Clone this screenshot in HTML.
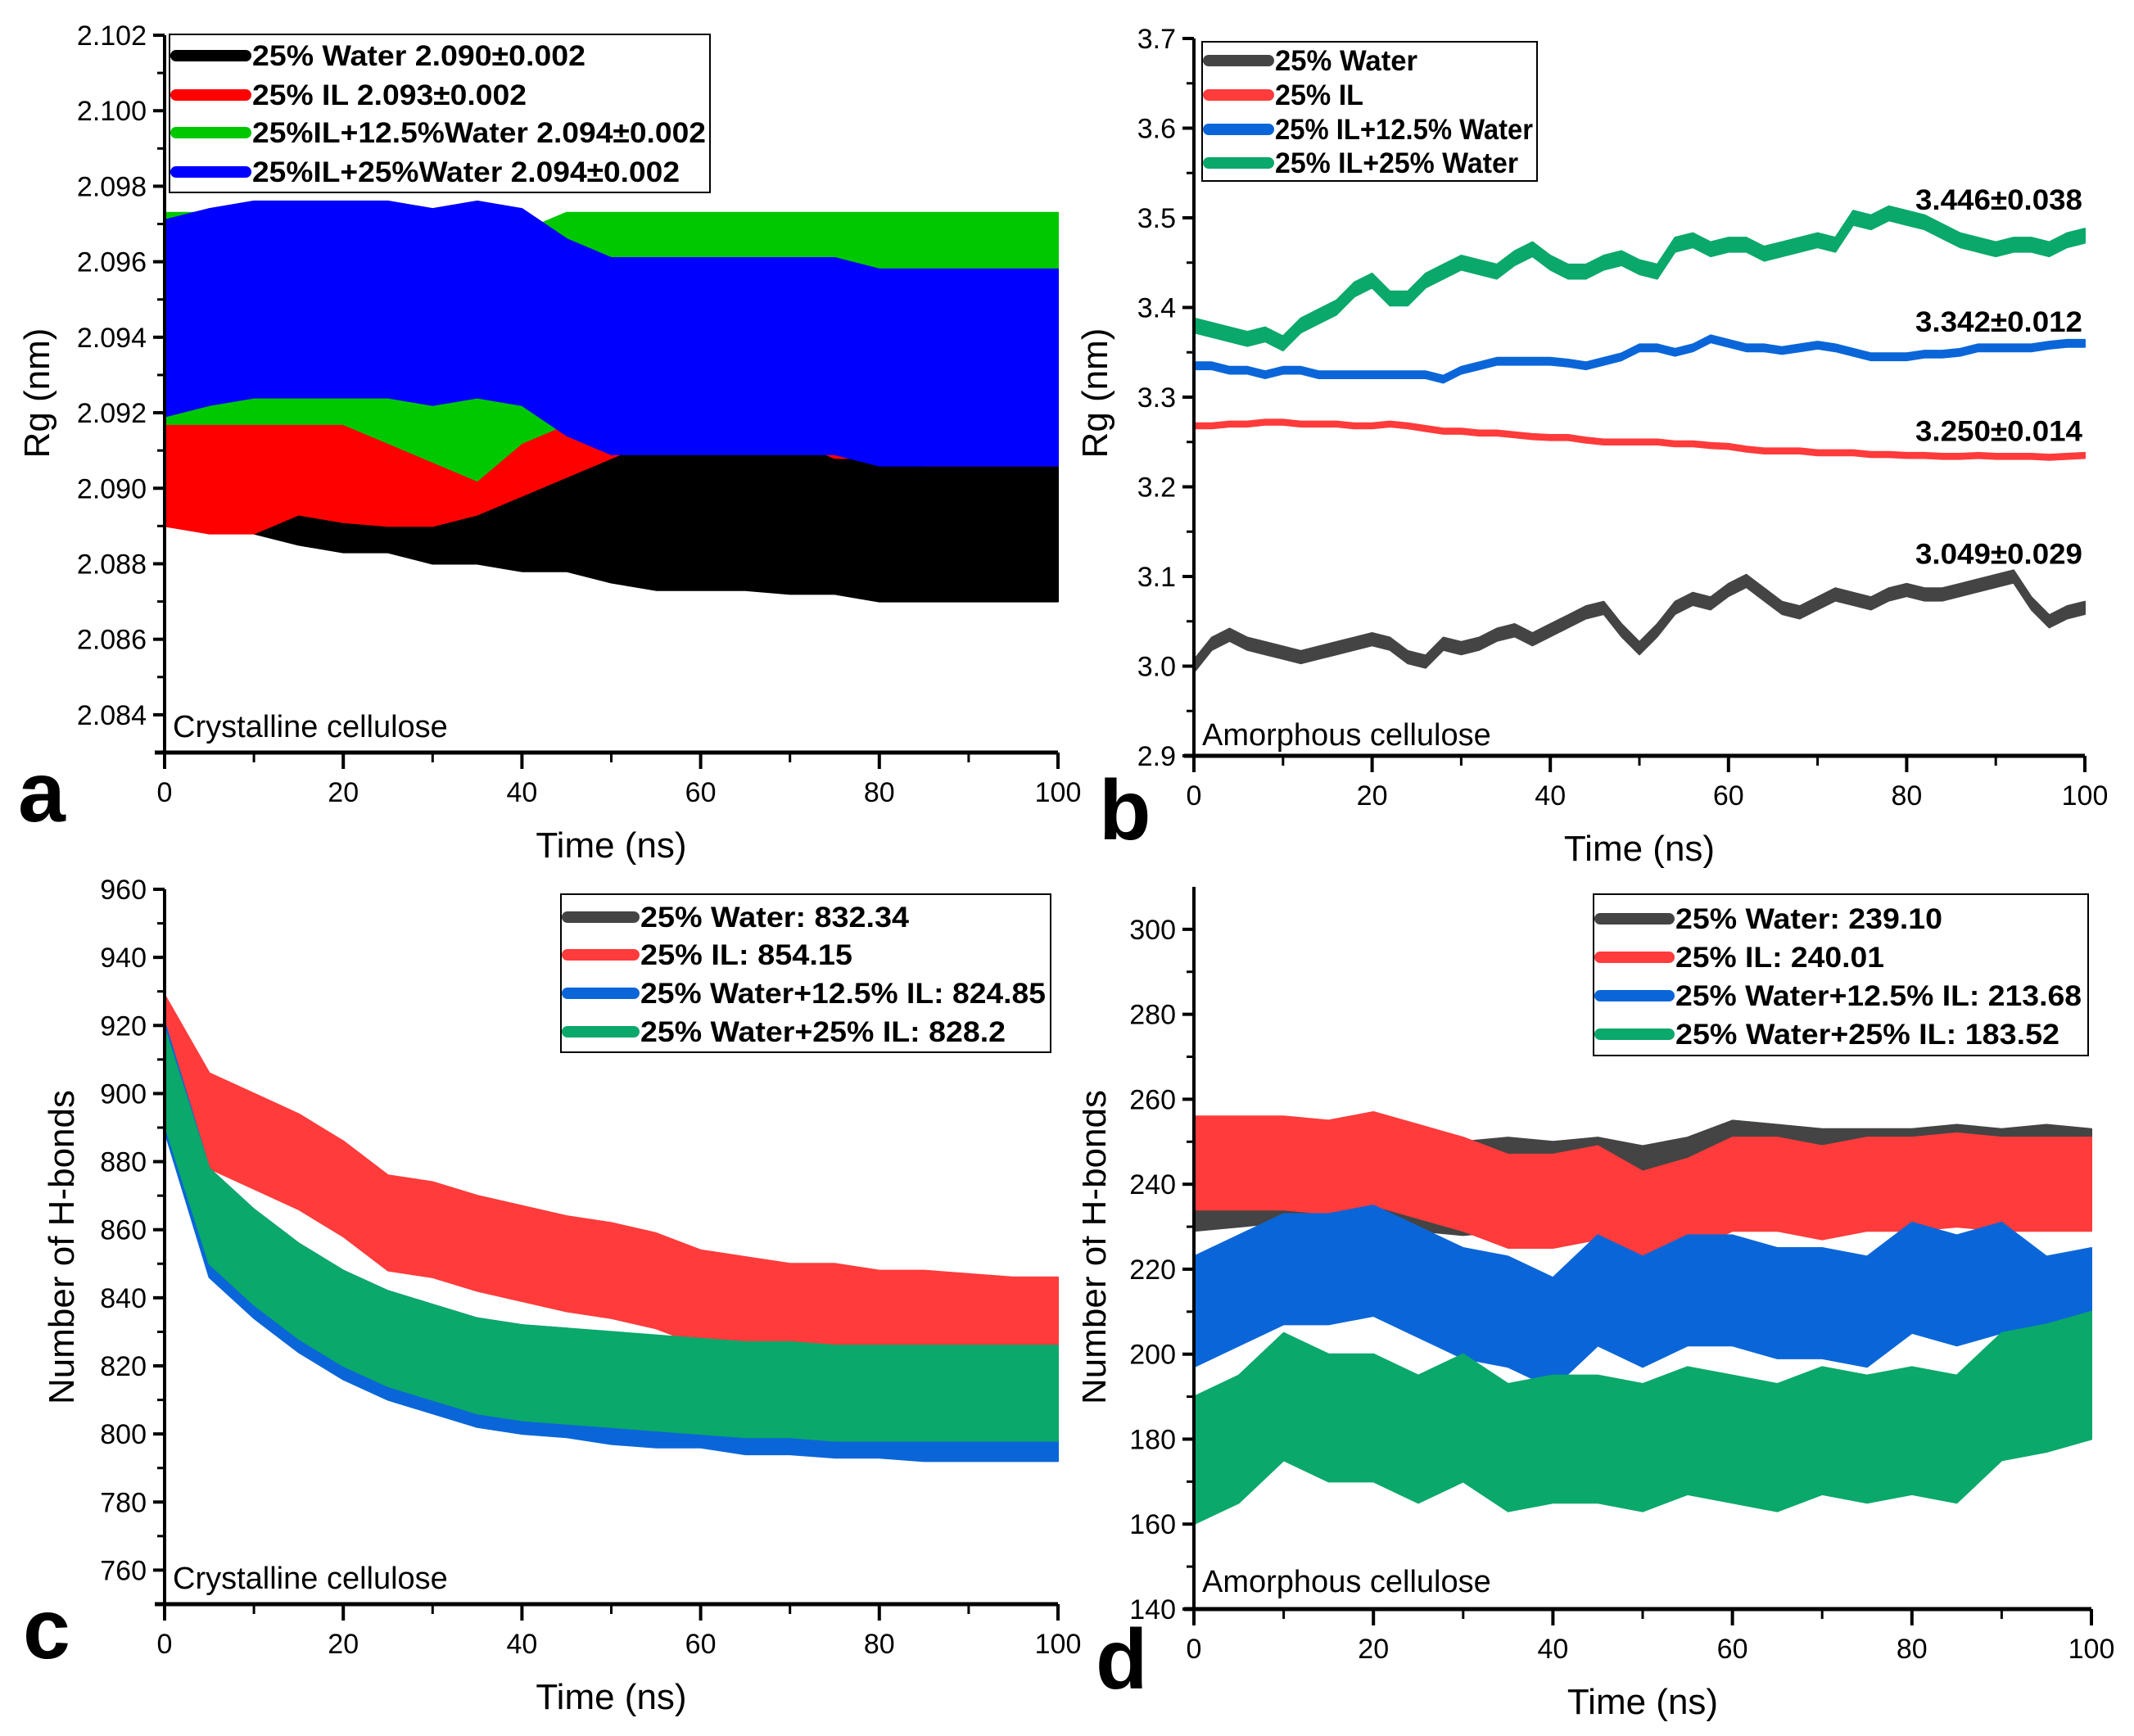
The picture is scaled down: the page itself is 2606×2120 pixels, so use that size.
<!DOCTYPE html>
<html><head><meta charset="utf-8"><title>Rg and H-bond time series</title>
<style>
html,body{margin:0;padding:0;background:#fff;}
svg{display:block;font-family:"Liberation Sans",Arial,sans-serif;}
.tick{font-size:34px;fill:#000;}
.title{font-size:44px;fill:#000;}
.leg{font-size:35px;font-weight:bold;fill:#000;}
.panel{font-size:104px;font-weight:bold;fill:#000;}
.note{font-size:38px;fill:#000;}
</style></head>
<body>
<svg id="fig" width="2606" height="2120" viewBox="0 0 2606 2120" xmlns="http://www.w3.org/2000/svg">
<defs><clipPath id="clipd"><rect x="1322" y="1000" width="300" height="1100"/></clipPath></defs>
</svg>
<script>
// ===== shared time axis =====
const tA = [0,5,10,15,20,25,30,35,40,45,50,55,60,65,70,75,80,85,90,95,100];
const tB = [0,2,4,6,8,10,12,14,16,18,20,22,24,26,28,30,32,34,36,38,40,42,44,46,48,50,52,54,56,58,60,62,64,66,68,70,72,74,76,78,80,82,84,86,88,90,92,94,96,98,100];
const xTicks = [0,20,40,60,80,100];

// ===== panel a: Rg crystalline =====
const aTicks = [2.084,2.086,2.088,2.090,2.092,2.094,2.096,2.098,2.100,2.102];
const aTickLabels = ["2.084","2.086","2.088","2.090","2.092","2.094","2.096","2.098","2.100","2.102"];
const aBlack = [2.0910,2.0910,2.0908,2.0905,2.0903,2.0903,2.0900,2.0900,2.0898,2.0898,2.0895,2.0893,2.0893,2.0893,2.0892,2.0892,2.0890,2.0890,2.0890,2.0890,2.0890];
const aRed   = [2.0912,2.0910,2.0910,2.0915,2.0913,2.0912,2.0912,2.0915,2.0920,2.0925,2.0930,2.0935,2.0945,2.0948,2.0935,2.0930,2.0930,2.0928,2.0928,2.0928,2.0928];
const aGreen = [2.0945,2.0945,2.0945,2.0945,2.0945,2.0940,2.0935,2.0930,2.0940,2.0945,2.0945,2.0945,2.0945,2.0945,2.0945,2.0945,2.0945,2.0945,2.0945,2.0945,2.0945];
const aBlue  = [2.0945,2.0948,2.0950,2.0950,2.0950,2.0950,2.0948,2.0950,2.0948,2.0940,2.0935,2.0935,2.0935,2.0935,2.0935,2.0935,2.0932,2.0932,2.0932,2.0932,2.0932];
const aSpread = [0.0020,0.0022,0.0028,0.0026];
const aLegend = ["25% Water 2.090±0.002","25% IL 2.093±0.002","25%IL+12.5%Water 2.094±0.002","25%IL+25%Water 2.094±0.002"];

// ===== panel b: Rg amorphous =====
const bTicks = [2.9,3.0,3.1,3.2,3.3,3.4,3.5,3.6,3.7];
const bTickLabels = ["2.9","3.0","3.1","3.2","3.3","3.4","3.5","3.6","3.7"];
const bBlack = [3.000,3.025,3.035,3.025,3.020,3.015,3.010,3.015,3.020,3.025,3.030,3.025,3.010,3.005,3.025,3.020,3.025,3.035,3.040,3.030,3.040,3.050,3.060,3.065,3.040,3.020,3.040,3.065,3.075,3.070,3.085,3.095,3.080,3.065,3.060,3.070,3.080,3.075,3.070,3.080,3.085,3.080,3.080,3.085,3.090,3.095,3.100,3.070,3.050,3.060,3.065];
const bRed = [3.268,3.268,3.270,3.270,3.272,3.272,3.270,3.270,3.270,3.268,3.268,3.270,3.268,3.265,3.262,3.262,3.260,3.260,3.258,3.256,3.255,3.255,3.252,3.250,3.250,3.250,3.250,3.248,3.248,3.246,3.245,3.242,3.240,3.240,3.240,3.238,3.238,3.238,3.236,3.236,3.235,3.235,3.234,3.234,3.235,3.234,3.234,3.234,3.233,3.234,3.235];
const bBlue = [3.335,3.335,3.330,3.330,3.325,3.330,3.330,3.325,3.325,3.325,3.325,3.325,3.325,3.325,3.320,3.330,3.335,3.340,3.340,3.340,3.340,3.338,3.335,3.340,3.345,3.355,3.355,3.350,3.355,3.365,3.360,3.355,3.355,3.352,3.355,3.358,3.355,3.350,3.345,3.345,3.345,3.348,3.348,3.350,3.355,3.355,3.355,3.355,3.358,3.360,3.360];
const bGreen = [3.380,3.375,3.370,3.365,3.370,3.360,3.380,3.390,3.400,3.420,3.430,3.410,3.410,3.430,3.440,3.450,3.445,3.440,3.455,3.465,3.450,3.440,3.440,3.450,3.455,3.445,3.440,3.470,3.475,3.465,3.470,3.470,3.460,3.465,3.470,3.475,3.470,3.500,3.495,3.505,3.500,3.495,3.485,3.475,3.470,3.465,3.470,3.470,3.465,3.475,3.480];
const bSpread = [0.007,0.003,0.004,0.008];
const bLegend = ["25% Water","25% IL","25% IL+12.5% Water","25% IL+25% Water"];
const bNotes = ["3.446±0.038","3.342±0.012","3.250±0.014","3.049±0.029"];
const bNoteVals = [3.520,3.384,3.262,3.125];

// ===== panel c: H-bonds crystalline =====
const cTicks = [760,780,800,820,840,860,880,900,920,940,960];
const cTickLabels = ["760","780","800","820","840","860","880","900","920","940","960"];
const cBlack = [906,866,854,844,836,830,826,822,820,818,817,816,815,814,814,813,813,813,813,813,813];
const cRed   = [915,892,886,880,872,862,860,856,853,850,848,845,840,838,836,836,834,834,833,832,832];
const cBlue  = [905,862,850,840,832,826,822,818,816,815,813,812,812,810,810,809,809,808,808,808,808];
const cGreen = [905,864,852,842,834,828,824,820,818,817,816,815,814,813,813,812,812,812,812,812,812];
const cSpread = [12,14,16,14];
const cLegend = ["25% Water: 832.34","25% IL: 854.15","25% Water+12.5% IL: 824.85","25% Water+25% IL: 828.2"];

// ===== panel d: H-bonds amorphous =====
const dTicks = [140,160,180,200,220,240,260,280,300];
const dTickLabels = ["140","160","180","200","220","240","260","280","300"];
const dBlack = [240,241,242,242,241,240,239,240,239,240,238,240,244,243,242,242,242,243,242,243,242];
const dRed   = [245,245,245,244,246,243,240,236,236,238,232,235,240,240,238,240,240,241,240,240,240];
const dBlue  = [210,215,220,220,222,217,212,210,205,215,210,215,215,212,212,210,218,215,218,210,212];
const dGreen = [175,180,190,185,185,180,185,178,180,180,178,182,180,178,182,180,182,180,190,192,195];
const dSpread = [11,11,13,15];
const dLegend = ["25% Water: 239.10","25% IL: 240.01","25% Water+12.5% IL: 213.68","25% Water+25% IL: 183.52"];

const NS = "http://www.w3.org/2000/svg";
const svg = document.getElementById('fig');
function mk(tag, attrs, parent){
  const e = document.createElementNS(NS, tag);
  for (const k in attrs) e.setAttribute(k, attrs[k]);
  (parent||svg).appendChild(e);
  return e;
}
function lin(d0,d1,r0,r1){ return v => r0 + (v-d0)/(d1-d0)*(r1-r0); }

function axes(P){
  const g = mk('g',{});
  
  
  const x = P.x, y = P.y;
  const ya = mk('line',{x1:P.left,y1:P.top,x2:P.left,y2:P.bottom+12,stroke:'#000','stroke-width':4},g);
  
  
  const xa = mk('line',{x1:P.left-12,y1:P.bottom,x2:P.right,y2:P.bottom,stroke:'#000','stroke-width':5},g);
  
  
  P.yTicks.forEach((v,i)=>{
    const yy = y(v);
    mk('line',{x1:P.left-14,y1:yy,x2:P.left,y2:yy,stroke:'#000','stroke-width':4},g);
    const t = mk('text',{x:P.left-22,y:yy+12,'text-anchor':'end',class:'tick'},g);
    t.textContent = P.yLabels[i];
    
    
    if (i < P.yTicks.length-1){
      const ym = y((v+P.yTicks[i+1])/2);
      mk('line',{x1:P.left-9,y1:ym,x2:P.left,y2:ym,stroke:'#000','stroke-width':3},g);
    }
  });
  for (let v=0; v<=100; v+=10){
    const xx = x(v); const maj = v%20===0;
    mk('line',{x1:xx,y1:P.bottom,x2:xx,y2:P.bottom+(maj?20:12),stroke:'#000','stroke-width':maj?4:3},g);
  }
  xTicks.forEach(v=>{
    const t = mk('text',{x:x(v),y:P.bottom+60,'text-anchor':'middle',class:'tick'},g);
    t.textContent = String(v);
    
    
  });
  const xt = mk('text',{x:(P.left+P.right)/2,y:P.bottom+128,'text-anchor':'middle',class:'title'},g);
  xt.textContent = 'Time (ns)';
  
  
  const cy = P.ytY;
  const ytg = P.clip ? mk('g',{'clip-path':'url(#clipd)'},g) : g;
  const yt = mk('text',{x:P.ytX,y:cy,'text-anchor':'middle',class:'title',transform:'rotate(-90 '+P.ytX+' '+cy+')'},ytg);
  yt.textContent = P.ytitle;
  
  
  const lab = mk('text',{x:P.left+10,y:P.labY,class:'note'},g);
  lab.textContent = P.label;
  
  
  const pl = mk('text',{x:P.letX,y:P.letY,class:'panel'},g);
  pl.textContent = P.letter;
  
  
}

function band(P, ts, vals, sp, color, name){
  let up = '', lo = '';
  ts.forEach((t,i)=>{ up += (i?'L':'M')+P.x(t).toFixed(1)+','+P.y(vals[i]+sp).toFixed(1); });
  for (let i=ts.length-1;i>=0;i--){ lo += 'L'+P.x(ts[i]).toFixed(1)+','+P.y(vals[i]-sp).toFixed(1); }
  const p = mk('path',{d:up+lo+'Z',fill:color,stroke:color,'stroke-width':2,'stroke-linejoin':'round'});
  
  
}
function line(P, ts, vals, sp, color, name){
  band(P, ts, vals, sp, color, name+'-band');
  let d='';
  ts.forEach((t,i)=>{ d += (i?'L':'M')+P.x(t).toFixed(1)+','+P.y(vals[i]).toFixed(1); });
  const p = mk('path',{d:d,fill:'none',stroke:color,'stroke-width':2});
  
  
}

function legend(P, box, labels, colors, rows){
  const g = mk('g',{});
  
  
  mk('rect',{x:box[0],y:box[1],width:box[2],height:box[3],fill:'#fff',stroke:'#000','stroke-width':2},g);
  labels.forEach((s,i)=>{
    const ry = rows[i];
    mk('line',{x1:box[0]+8,y1:ry,x2:box[0]+box[4]-8,y2:ry,stroke:colors[i],'stroke-width':14,'stroke-linecap':'round'},g);
    const t = mk('text',{x:box[0]+box[4],y:ry+12,class:'leg',textLength:box[5][i],lengthAdjust:'spacingAndGlyphs'},g);
    t.textContent = s;
    
    
  });
}

// ---- panel a ----
const PA = {id:'panel-a',left:201,right:1292,top:43,bottom:919,yTicks:aTicks,yLabels:aTickLabels,
  ytitle:'Rg (nm)',ytX:60,ytY:480,label:'Crystalline cellulose',labY:900,letter:'a',letX:22,letY:1003};
PA.x = lin(0,100,201,1292); PA.y = lin(2.083,2.102,919,43);
const colA = ['#000000','#ff0000','#00c800','#0000ff'];
[aBlack,aRed,aGreen,aBlue].forEach((s,i)=> band(PA,tA,s,aSpread[i],colA[i],'panel-a-series-'+i));
legend(PA,[207,42,660,193,101,[407,335,554,522]],aLegend,colA,[68,116,162,210]);
axes(PA);

// ---- panel b ----
const PB = {id:'panel-b',left:1458,right:2546,top:47,bottom:923,yTicks:bTicks,yLabels:bTickLabels,
  ytitle:'Rg (nm)',ytX:1352,ytY:480,label:'Amorphous cellulose',labY:910,letter:'b',letX:1342,letY:1025};
PB.x = lin(0,100,1458,2546); PB.y = lin(2.9,3.7,923,47);
const colB = ['#444444','#ff3b3b','#0a66d8','#0aa86a'];
[bBlack,bRed,bBlue,bGreen].forEach((s,i)=> line(PB,tB,s,bSpread[i],colB[i],'panel-b-series-'+i));
legend(PB,[1468,51,409,170,89,[174,108,315,297]],bLegend,colB,[74,116,158,199]);
bNotes.forEach((s,i)=>{
  const t = mk('text',{x:2543,y:PB.y(bNoteVals[i])+12,'text-anchor':'end',class:'leg',textLength:204,lengthAdjust:'spacingAndGlyphs'});
  t.textContent = s;
  
  
});
axes(PB);

// ---- panel c ----
const PC = {id:'panel-c',left:201,right:1292,top:1086,bottom:1959,yTicks:cTicks,yLabels:cTickLabels,
  ytitle:'Number of H-bonds',ytX:90,ytY:1523,label:'Crystalline cellulose',labY:1940,letter:'c',letX:28,letY:2025};
PC.x = lin(0,100,201,1292); PC.y = lin(750,960,1959,1086);
const colC = ['#444444','#ff3b3b','#0a66d8','#0aa86a'];
[cBlack,cRed,cBlue,cGreen].forEach((s,i)=> band(PC,tA,s,cSpread[i],colC[i],'panel-c-series-'+i));
legend(PC,[685,1092,598,193,97,[328,259,495,446]],cLegend,colC,[1120,1166,1213,1260]);
axes(PC);

// ---- panel d ----
const PD = {id:'panel-d',left:1458,right:2554,top:1083,bottom:1965,yTicks:dTicks,yLabels:dTickLabels,
  ytitle:'Number of H-bonds',ytX:1350,ytY:1523,label:'Amorphous cellulose',labY:1944,letter:'d',letX:1338,letY:2062,clip:true};
PD.x = lin(0,100,1458,2554); PD.y = lin(140,310,1965,1083);
const colD = ['#444444','#ff3b3b','#0a66d8','#0aa86a'];
[dBlack,dRed,dBlue,dGreen].forEach((s,i)=> band(PD,tA,s,dSpread[i],colD[i],'panel-d-series-'+i));
legend(PD,[1946,1092,604,197,100,[326,255,496,469]],dLegend,colD,[1122,1169,1216,1263]);
axes(PD);
</script>
</body></html>
